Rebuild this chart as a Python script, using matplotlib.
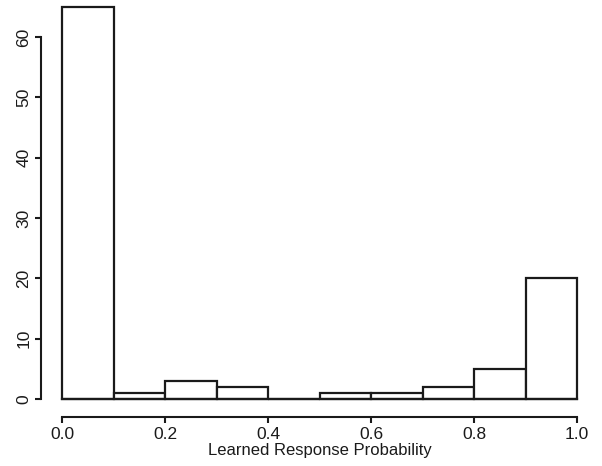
import matplotlib
matplotlib.use("Agg")
import matplotlib.pyplot as plt
import numpy as np

# histogram of learned response probabilities
bin_edges = [0.0, 0.1, 0.2, 0.3, 0.4, 0.5, 0.6, 0.7, 0.8, 0.9, 1.0]
counts = [65, 1, 3, 2, 0, 1, 1, 2, 5, 20]
x_ticks = [0.0, 0.2, 0.4, 0.6, 0.8, 1.0]
y_ticks = [0, 10, 20, 30, 40, 50, 60]

plt.rcParams['font.family'] = ['Liberation Sans', 'DejaVu Sans']
ink = '#1a1a1a'

fig = plt.figure(figsize=(6.02, 4.66), dpi=100)
ax = fig.add_axes([62 / 602, 67 / 466, 515 / 602, 398 / 466])

left = np.array(bin_edges[:-1])
widths = np.diff(bin_edges)
bars = ax.bar(left, counts, width=widths, align='edge', facecolor='white',
              edgecolor=ink, linewidth=1.6)
for b in bars:
    b.set_clip_on(False)
# baseline under all bins (R draws empty bins as a flat line)
ax.plot([bin_edges[0], bin_edges[-1]], [0, 0], color=ink, lw=1.6,
        clip_on=False, zorder=3)

ax.set_xlim(0, 1)
ax.set_ylim(0, 66)

for s in ['top', 'right']:
    ax.spines[s].set_visible(False)
ax.spines['left'].set_position(('outward', 15))
ax.spines['bottom'].set_position(('outward', 13))
ax.spines['left'].set_bounds(0, 60)
ax.spines['bottom'].set_bounds(0, 1)
for s in ['left', 'bottom']:
    ax.spines[s].set_linewidth(1.5)
    ax.spines[s].set_color(ink)

ax.set_xticks(x_ticks)
ax.set_xticklabels(['%.1f' % v for v in x_ticks])
ax.set_yticks(y_ticks)
ax.set_yticklabels([str(v) for v in y_ticks], rotation=90, va='center')
ax.tick_params(axis='both', length=4, width=1.5, color=ink,
               labelsize=12.5, labelcolor=ink, pad=3)

ax.set_xlabel('Learned Response Probability', fontsize=12, color=ink, labelpad=1)

fig.savefig('out.png', dpi=100)
